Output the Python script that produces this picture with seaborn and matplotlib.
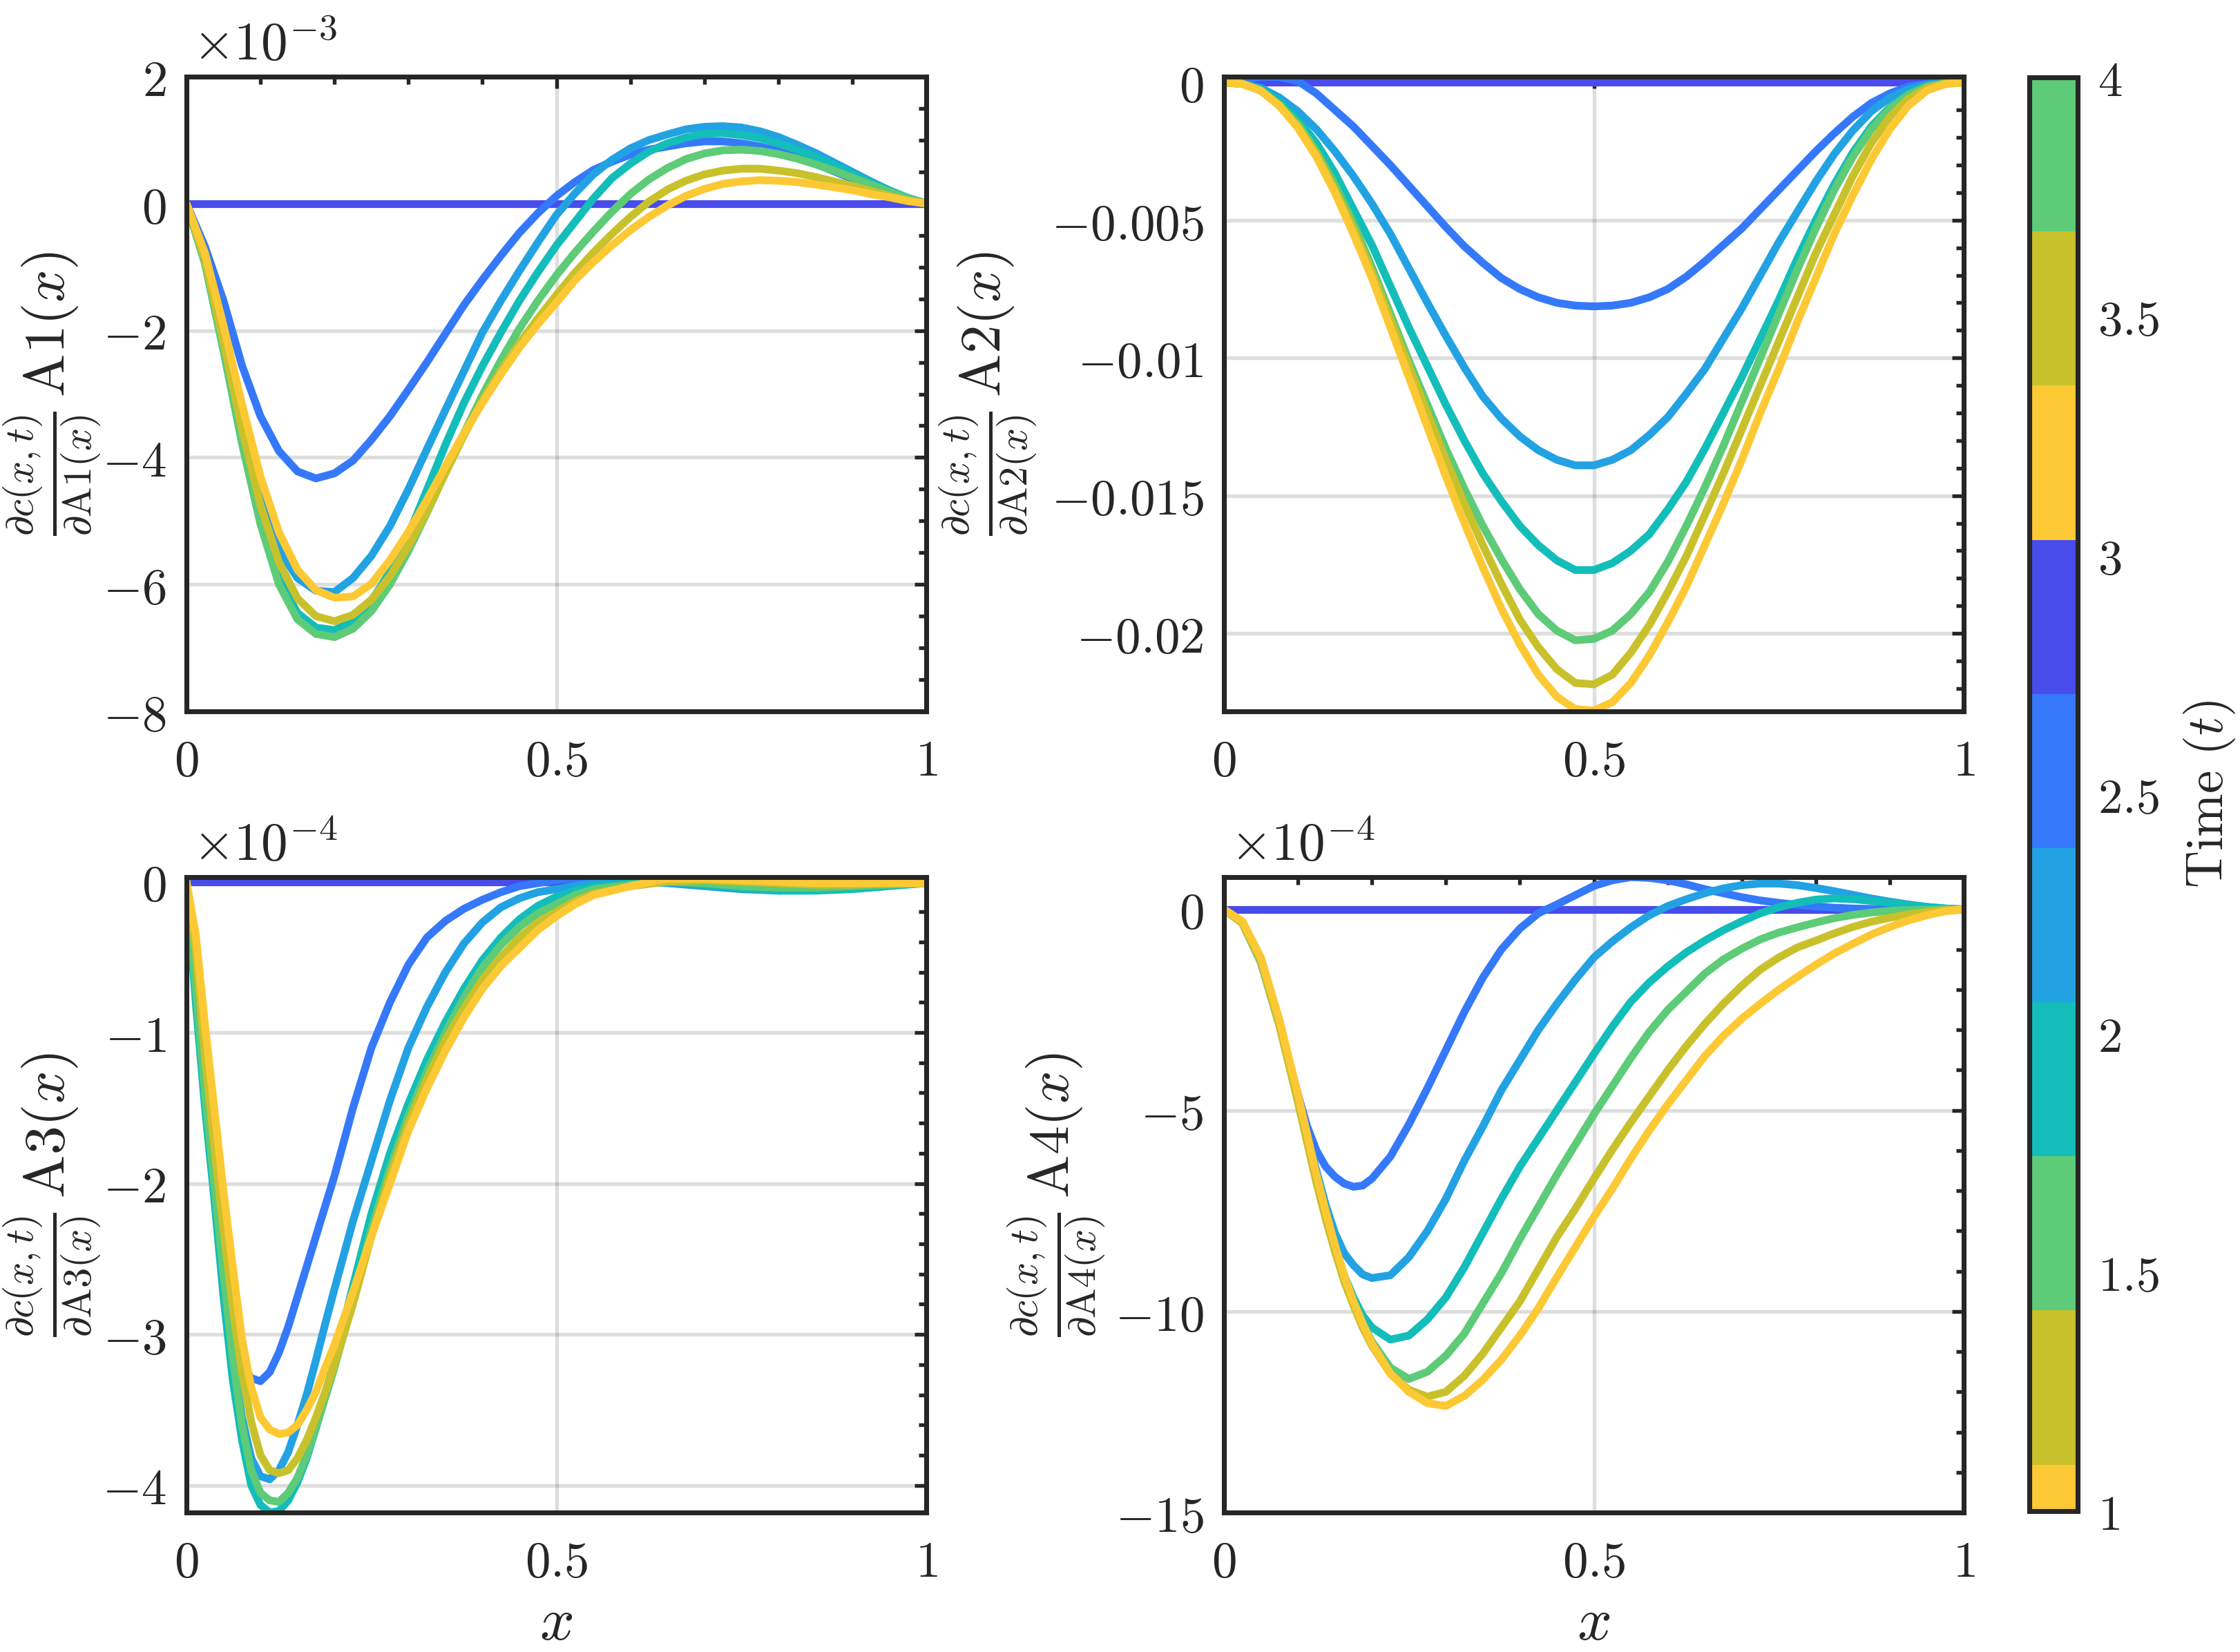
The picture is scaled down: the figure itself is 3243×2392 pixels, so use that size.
import numpy as np
import pandas as pd
import matplotlib
matplotlib.use("Agg")
import matplotlib as mpl
import matplotlib.pyplot as plt
import seaborn as sns
from matplotlib.colors import ListedColormap, BoundaryNorm
from matplotlib.ticker import MultipleLocator, FuncFormatter

# ---------------- data ----------------
series_names = ["s1", "s2", "s3", "s4", "s5", "s6", "s7"]
line_colors = ["#484CEB", "#3579FA", "#22A2E3", "#13BDB9", "#5DCB77", "#C9C12C", "#FCC935"]

x41 = np.linspace(0.0, 1.0, 41)
zero41 = [0.0] * 41

# Panel 1 (units of 1e-3)
a1_s2 = [0, -0.68, -1.53, -2.55, -3.35, -3.9, -4.22, -4.33, -4.25, -4.05, -3.72, -3.35, -2.93, -2.5, -2.05,
         -1.6, -1.2, -0.82, -0.46, -0.15, 0.12, 0.34, 0.53, 0.66, 0.77, 0.85, 0.9, 0.95, 0.98, 0.98, 0.95,
         0.9, 0.83, 0.74, 0.63, 0.51, 0.39, 0.27, 0.16, 0.07, 0]
a1_s3 = [0, -0.81, -2.12, -3.5, -4.65, -5.45, -5.9, -6.1, -6.12, -5.9, -5.55, -5.08, -4.5, -3.87, -3.25,
         -2.64, -2.03, -1.53, -1.06, -0.61, -0.18, 0.16, 0.46, 0.69, 0.87, 1.0, 1.09, 1.17, 1.21, 1.22, 1.2,
         1.14, 1.05, 0.93, 0.8, 0.65, 0.5, 0.35, 0.21, 0.09, 0]
a1_s4 = [0, -0.94, -2.31, -3.75, -5.0, -5.92, -6.45, -6.68, -6.72, -6.58, -6.26, -5.8, -5.22, -4.51, -3.8,
         -3.14, -2.56, -2.03, -1.53, -1.08, -0.66, -0.29, 0.08, 0.4, 0.63, 0.82, 0.95, 1.04, 1.1, 1.11, 1.08,
         1.03, 0.95, 0.85, 0.74, 0.61, 0.47, 0.33, 0.2, 0.09, 0]
a1_s5 = [0, -0.94, -2.31, -3.78, -5.05, -6.0, -6.55, -6.78, -6.83, -6.7, -6.42, -6.0, -5.47, -4.87, -4.24,
         -3.62, -3.02, -2.47, -1.97, -1.53, -1.13, -0.77, -0.44, -0.13, 0.15, 0.38, 0.56, 0.7, 0.79, 0.84,
         0.85, 0.83, 0.78, 0.71, 0.62, 0.52, 0.41, 0.3, 0.19, 0.08, 0]
a1_s6 = [0, -0.88, -2.18, -3.55, -4.75, -5.65, -6.22, -6.5, -6.58, -6.48, -6.24, -5.87, -5.4, -4.85, -4.25,
         -3.65, -3.1, -2.63, -2.2, -1.81, -1.44, -1.09, -0.77, -0.48, -0.21, 0.03, 0.22, 0.36, 0.46, 0.52,
         0.55, 0.55, 0.52, 0.48, 0.42, 0.35, 0.28, 0.2, 0.12, 0.05, 0]
a1_s7 = [0, -0.78, -1.92, -3.16, -4.3, -5.18, -5.77, -6.09, -6.21, -6.19, -5.99, -5.62, -5.17, -4.67, -4.14,
         -3.62, -3.14, -2.69, -2.27, -1.9, -1.56, -1.21, -0.92, -0.66, -0.42, -0.21, -0.03, 0.12, 0.23, 0.31,
         0.35, 0.37, 0.36, 0.34, 0.3, 0.26, 0.21, 0.15, 0.1, 0.04, 0]

# Panel 2 (units of 1e-3, axis shows plain values)
a2_s2 = [0, 0.08, 0.2, 0.2, 0.05, -0.4, -1.0, -1.6, -2.3, -3.0, -3.75, -4.5, -5.25, -5.95, -6.55, -7.1, -7.5,
         -7.8, -8.0, -8.1, -8.13, -8.1, -8.0, -7.8, -7.5, -7.05, -6.5, -5.9, -5.3, -4.6, -3.9, -3.2, -2.5,
         -1.85, -1.25, -0.75, -0.4, -0.15, -0.05, 0.0, 0]
a2_s3 = [0, -0.05, -0.2, -0.55, -1.05, -1.7, -2.5, -3.4, -4.4, -5.5, -6.75, -8.0, -9.2, -10.35, -11.4, -12.2,
         -12.85, -13.35, -13.7, -13.9, -13.9, -13.7, -13.35, -12.8, -12.15, -11.3, -10.4, -9.3, -8.2, -7.0,
         -5.8, -4.7, -3.6, -2.6, -1.75, -1.05, -0.55, -0.25, -0.08, -0.02, 0]
a2_s4 = [0, -0.05, -0.25, -0.7, -1.35, -2.2, -3.3, -4.6, -5.9, -7.4, -8.9, -10.3, -11.7, -13.0, -14.2, -15.2,
         -16.1, -16.8, -17.35, -17.7, -17.7, -17.45, -17.0, -16.4, -15.5, -14.5, -13.3, -12.0, -10.7, -9.3,
         -7.9, -6.4, -5.0, -3.7, -2.55, -1.6, -0.9, -0.4, -0.12, -0.02, 0]
a2_s5 = [0, -0.05, -0.3, -0.8, -1.5, -2.5, -3.7, -5.1, -6.7, -8.4, -10.1, -11.7, -13.3, -14.75, -16.1, -17.3,
         -18.4, -19.3, -19.9, -20.25, -20.2, -19.9, -19.3, -18.5, -17.4, -16.1, -14.7, -13.2, -11.6, -10.0,
         -8.4, -6.8, -5.3, -3.9, -2.7, -1.7, -0.95, -0.45, -0.15, -0.03, 0]
a2_s6 = [0, -0.05, -0.3, -0.85, -1.6, -2.6, -3.9, -5.3, -6.9, -8.6, -10.3, -12.0, -13.7, -15.3, -16.8, -18.2,
         -19.5, -20.5, -21.3, -21.8, -21.85, -21.5, -20.7, -19.7, -18.5, -17.2, -15.7, -14.2, -12.6, -11.0,
         -9.4, -7.8, -6.2, -4.8, -3.4, -2.2, -1.25, -0.6, -0.2, -0.04, 0]
a2_s7 = [0, -0.05, -0.3, -0.85, -1.65, -2.7, -4.0, -5.5, -7.1, -8.9, -10.7, -12.5, -14.3, -16.0, -17.6, -19.1,
         -20.4, -21.5, -22.3, -22.75, -22.8, -22.5, -21.8, -20.8, -19.6, -18.3, -16.8, -15.3, -13.7, -12.0,
         -10.4, -8.7, -7.1, -5.5, -4.1, -2.8, -1.7, -0.85, -0.3, -0.06, 0]

# Panel 3 (units of 1e-4)
x40 = [0, 0.0125, 0.025, 0.0375, 0.05, 0.0625, 0.075, 0.0875, 0.1, 0.1125, 0.125, 0.1375, 0.15, 0.1625,
       0.175, 0.1875, 0.2, 0.225, 0.25, 0.275, 0.3, 0.325, 0.35, 0.375, 0.4, 0.425, 0.45, 0.475, 0.5, 0.525,
       0.55, 0.6, 0.65, 0.7, 0.75, 0.8, 0.85, 0.9, 0.95, 1.0]
zero40 = [0.0] * 40
a3_s2 = [0, -0.75, -1.45, -2.05, -2.6, -3.0, -3.2, -3.29, -3.31, -3.25, -3.12, -2.95, -2.75, -2.55, -2.35,
         -2.15, -1.95, -1.5, -1.1, -0.8, -0.55, -0.37, -0.26, -0.18, -0.12, -0.07, -0.03, -0.01, 0.01, 0.02,
         0.02, 0.01, 0, 0, 0, 0, 0, 0, 0, 0]
a3_s3 = [0, -0.75, -1.45, -2.05, -2.65, -3.15, -3.55, -3.82, -3.94, -3.96, -3.9, -3.78, -3.6, -3.4, -3.17,
         -2.93, -2.7, -2.25, -1.85, -1.45, -1.1, -0.83, -0.6, -0.41, -0.27, -0.17, -0.11, -0.07, -0.05, -0.03,
         -0.01, 0.0, -0.01, -0.03, -0.05, -0.06, -0.05, -0.04, -0.02, -0.01]
a3_s4 = [0, -0.8, -1.5, -2.1, -2.75, -3.3, -3.7, -4.0, -4.13, -4.18, -4.17, -4.1, -3.98, -3.82, -3.62, -3.4,
         -3.17, -2.68, -2.2, -1.8, -1.47, -1.18, -0.93, -0.71, -0.52, -0.37, -0.25, -0.16, -0.1, -0.06, -0.03,
         -0.01, 0.0, -0.02, -0.04, -0.06, -0.06, -0.05, -0.03, -0.01]
a3_s5 = [0, -0.7, -1.4, -2.0, -2.6, -3.15, -3.6, -3.9, -4.05, -4.1, -4.11, -4.05, -3.95, -3.8, -3.62, -3.42,
         -3.22, -2.78, -2.3, -1.9, -1.55, -1.26, -1.0, -0.77, -0.57, -0.42, -0.3, -0.21, -0.15, -0.09, -0.05,
         -0.02, 0.0, -0.01, -0.03, -0.04, -0.04, -0.03, -0.02, -0.01]
a3_s6 = [0, -0.45, -1.15, -1.75, -2.3, -2.82, -3.25, -3.58, -3.8, -3.9, -3.92, -3.9, -3.82, -3.7, -3.55,
         -3.38, -3.2, -2.8, -2.35, -1.95, -1.6, -1.31, -1.05, -0.84, -0.65, -0.5, -0.37, -0.27, -0.2, -0.13,
         -0.08, -0.03, 0.0, 0.01, 0.0, -0.01, -0.02, -0.02, -0.01, -0.01]
a3_s7 = [0, -0.35, -0.95, -1.5, -2.05, -2.55, -3.03, -3.35, -3.55, -3.63, -3.66, -3.65, -3.6, -3.5, -3.38,
         -3.22, -3.07, -2.72, -2.35, -2.0, -1.65, -1.37, -1.12, -0.9, -0.71, -0.56, -0.44, -0.32, -0.23, -0.15,
         -0.09, -0.03, 0.02, 0.02, 0.01, 0.0, -0.01, -0.01, -0.01, -0.01]

# Panel 4 (units of 1e-4)
x45 = [0, 0.025, 0.05, 0.075, 0.1, 0.1125, 0.125, 0.1375, 0.15, 0.1625, 0.175, 0.1875, 0.2, 0.225, 0.25,
       0.275, 0.3, 0.325, 0.35, 0.375, 0.4, 0.425, 0.45, 0.475, 0.5, 0.525, 0.55, 0.575, 0.6, 0.625, 0.65,
       0.675, 0.7, 0.725, 0.75, 0.775, 0.8, 0.825, 0.85, 0.875, 0.9, 0.925, 0.95, 0.975, 1.0]
zero45 = [0.0] * 45
a4_s2 = [0, -0.34, -1.32, -2.88, -4.6, -5.4, -6.0, -6.4, -6.65, -6.82, -6.9, -6.87, -6.7, -6.15, -5.35,
         -4.45, -3.5, -2.55, -1.7, -1.0, -0.48, -0.1, 0.12, 0.35, 0.58, 0.72, 0.8, 0.78, 0.72, 0.62, 0.5,
         0.4, 0.3, 0.22, 0.16, 0.11, 0.07, 0.04, 0.02, 0.01, 0, 0, 0, 0, 0]
a4_s3 = [0, -0.34, -1.32, -2.88, -4.7, -5.65, -6.5, -7.35, -8.05, -8.55, -8.85, -9.08, -9.17, -9.1, -8.65,
         -8.0, -7.2, -6.25, -5.4, -4.5, -3.75, -3.0, -2.35, -1.75, -1.2, -0.8, -0.45, -0.15, 0.08, 0.25,
         0.4, 0.52, 0.6, 0.64, 0.64, 0.6, 0.53, 0.45, 0.36, 0.27, 0.19, 0.12, 0.06, 0.02, 0]
a4_s4 = [0, -0.34, -1.32, -2.88, -4.75, -5.75, -6.7, -7.6, -8.4, -9.1, -9.65, -10.1, -10.4, -10.7, -10.6,
         -10.2, -9.65, -8.9, -8.05, -7.2, -6.4, -5.7, -5.0, -4.3, -3.6, -2.92, -2.3, -1.82, -1.42, -1.07,
         -0.78, -0.52, -0.3, -0.1, 0.05, 0.16, 0.24, 0.27, 0.25, 0.21, 0.16, 0.11, 0.06, 0.02, 0]
a4_s5 = [0, -0.34, -1.32, -2.88, -4.75, -5.78, -6.75, -7.65, -8.5, -9.2, -9.75, -10.3, -10.75, -11.4,
         -11.68, -11.5, -11.1, -10.55, -9.8, -9.05, -8.2, -7.4, -6.6, -5.85, -5.1, -4.4, -3.7, -3.05, -2.5,
         -2.05, -1.6, -1.25, -0.98, -0.75, -0.58, -0.45, -0.33, -0.22, -0.14, -0.08, -0.04, -0.02, -0.01, 0, 0]
a4_s6 = [0, -0.35, -1.3, -2.9, -4.8, -5.8, -6.8, -7.7, -8.5, -9.25, -9.85, -10.4, -10.85, -11.55, -11.95,
         -12.12, -12.0, -11.6, -11.05, -10.4, -9.75, -8.95, -8.15, -7.45, -6.7, -5.98, -5.3, -4.65, -4.0,
         -3.4, -2.85, -2.35, -1.9, -1.5, -1.2, -0.95, -0.78, -0.6, -0.44, -0.31, -0.21, -0.13, -0.07, -0.02, 0]
a4_s7 = [0, -0.3, -1.2, -2.75, -4.6, -5.6, -6.6, -7.5, -8.35, -9.1, -9.75, -10.3, -10.8, -11.55, -12.0,
         -12.28, -12.35, -12.1, -11.7, -11.2, -10.6, -9.92, -9.15, -8.4, -7.65, -6.95, -6.2, -5.5, -4.85,
         -4.25, -3.65, -3.15, -2.72, -2.35, -2.0, -1.68, -1.38, -1.1, -0.86, -0.63, -0.44, -0.28, -0.15,
         -0.05, 0]

# colorbar
cbar_colors = ["#FCC935", "#C9C12C", "#5DCB77", "#13BDB9", "#22A2E3", "#3579FA", "#484CEB",
               "#FCC935", "#C9C12C", "#5DCB77"]
cbar_bounds = [1.0, 1.0975, 1.42, 1.7425, 2.065, 2.3875, 2.71, 3.0325, 3.355, 3.6775, 4.0]
cbar_ticks = [1, 1.5, 2, 2.5, 3, 3.5, 4]

# ---------------- style ----------------
sns.set_theme(style="white")
plt.rcParams["mathtext.fontset"] = "cm"
plt.rcParams["font.family"] = ["DejaVu Serif"]
DARK = "#262626"

W, H = 3243, 2392
fig = plt.figure(figsize=(W / 300, H / 300), dpi=300)
fig.patch.set_facecolor("white")


def mfmt(v, pos):
    s = f"{v:g}"
    if s == "-0":
        s = "0"
    return f"${s}$"


panels = [
    dict(pos=[270 / W, 1 - 1030 / H, 1071 / W, 919 / H], x=x41,
         ys=[zero41, a1_s2, a1_s3, a1_s4, a1_s5, a1_s6, a1_s7], scale=1.0,
         ylim=(-8, 2), major=2, minor=0.5, label="A1", offset=r"$\times 10^{-3}$", ylab_x=-0.113),
    dict(pos=[1772 / W, 1 - 1030 / H, 1071 / W, 919 / H], x=x41,
         ys=[zero41, a2_s2, a2_s3, a2_s4, a2_s5, a2_s6, a2_s7], scale=1e-3,
         ylim=(-0.02283, 0.00021), major=0.005, minor=0.001, label="A2", offset=None, ylab_x=-0.25),
    dict(pos=[270 / W, 1 - 2190 / H, 1071 / W, 920 / H], x=x40,
         ys=[zero40, a3_s2, a3_s3, a3_s4, a3_s5, a3_s6, a3_s7], scale=1.0,
         ylim=(-4.18, 0.03), major=1, minor=0.2, label="A3", offset=r"$\times 10^{-4}$", ylab_x=-0.113),
    dict(pos=[1772 / W, 1 - 2190 / H, 1071 / W, 920 / H], x=x45,
         ys=[zero45, a4_s2, a4_s3, a4_s4, a4_s5, a4_s6, a4_s7], scale=1.0,
         ylim=(-15, 0.8), major=5, minor=1, label="A4", offset=r"$\times 10^{-4}$", ylab_x=-0.158),
]

palette = dict(zip(series_names, line_colors))

for i, p in enumerate(panels):
    ax = fig.add_axes(p["pos"])
    frames = []
    for name, vals in zip(series_names, p["ys"]):
        frames.append(pd.DataFrame({"x": p["x"], "y": np.asarray(vals, dtype=float) * p["scale"],
                                    "series": name}))
    df = pd.concat(frames, ignore_index=True)
    sns.lineplot(data=df, x="x", y="y", hue="series", hue_order=series_names, palette=palette,
                 estimator=None, sort=False, linewidth=2.7, legend=False, ax=ax,
                 solid_joinstyle="round", solid_capstyle="round")
    ax.set_xlim(0, 1)
    ax.set_ylim(*p["ylim"])
    ax.xaxis.set_major_locator(MultipleLocator(0.5))
    ax.xaxis.set_minor_locator(MultipleLocator(0.1))
    ax.yaxis.set_major_locator(MultipleLocator(p["major"]))
    ax.yaxis.set_minor_locator(MultipleLocator(p["minor"]))
    ax.xaxis.set_major_formatter(FuncFormatter(mfmt))
    ax.yaxis.set_major_formatter(FuncFormatter(mfmt))
    ax.grid(True, which="major", color=DARK, alpha=0.15, linewidth=1.3)
    ax.set_axisbelow(True)
    for sp in ax.spines.values():
        sp.set_visible(True)
        sp.set_color(DARK)
        sp.set_linewidth(1.7)
        sp.set_zorder(5)
    ax.tick_params(which="both", direction="in", top=True, right=True, color=DARK,
                   labelcolor=DARK, labelsize=17.5, width=1.3)
    ax.tick_params(which="major", length=4)
    ax.tick_params(which="minor", length=2.6)
    ax.tick_params(axis="y", which="major", pad=7)
    ax.tick_params(axis="x", which="major", pad=9)
    lab = p["label"]
    ax.set_ylabel(r"$\frac{\partial c(x,t)}{\partial \mathrm{" + lab + r"}(x)}\,\mathrm{" + lab + r"}(x)$",
                  fontsize=20, color=DARK)
    ax.yaxis.set_label_coords(p["ylab_x"], 0.5)
    if i >= 2:
        ax.set_xlabel(r"$x$", fontsize=21, color=DARK)
        ax.xaxis.set_label_coords(0.5, -0.127)
    else:
        ax.set_xlabel("")
    if p["offset"]:
        ax.text(0.008, 1.026, p["offset"], transform=ax.transAxes, ha="left", va="baseline",
                fontsize=18.5, color=DARK)

# colorbar
cax = fig.add_axes([2938 / W, 1 - 2188 / H, 70 / W, 2076 / H])
cmap = ListedColormap(cbar_colors)
norm = BoundaryNorm(cbar_bounds, cmap.N)
sm = mpl.cm.ScalarMappable(norm=norm, cmap=cmap)
cb = fig.colorbar(sm, cax=cax, ticks=cbar_ticks, spacing="proportional")
cb.outline.set_linewidth(1.7)
cb.outline.set_edgecolor(DARK)
cax.yaxis.set_major_formatter(FuncFormatter(mfmt))
cax.tick_params(direction="in", length=4.8, width=1.0, color=DARK, labelcolor=DARK,
                labelsize=17, pad=7)
cax.minorticks_off()
cb.set_label(r"$\mathrm{Time}\ (t)$", fontsize=18, color=DARK, labelpad=8)

fig.savefig("out.png", dpi=300, facecolor="white")
